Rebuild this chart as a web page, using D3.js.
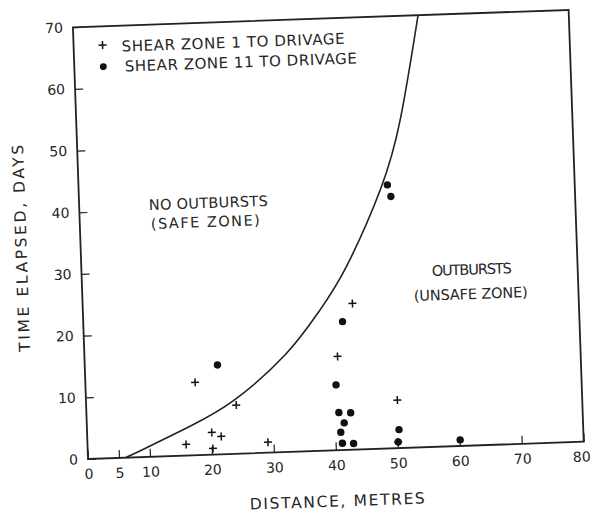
<!DOCTYPE html>
<html>
<head>
<meta charset="utf-8">
<script src="https://cdn.jsdelivr.net/npm/d3@7"></script>
<style>
  body { margin: 0; background: #fff; }
  svg { display: block; }
  text { font-family: "DejaVu Sans", sans-serif; fill: #262626; }
</style>
</head>
<body>
<div id="chart"></div>
<script>
// shear zone 1 (plus marks), [distance m, days]
const zoneOne = [
  [17.7, 11.8], [24.2, 7.9], [20.1, 3.6], [21.6, 2.9], [15.9, 1.8], [20.2, 1.0],
  [29.1, 1.7], [40.8, 15.2], [43.5, 23.7], [50.2, 7.8], [50.1, 1.0]
]
// shear zone 11 (dots)
const zoneEleven = [
  [21.4, 14.5], [49.8, 42.7], [50.3, 40.8], [41.8, 20.8], [40.4, 10.6], [40.7, 6.1],
  [42.6, 6.0], [41.5, 4.4], [40.9, 2.9], [50.3, 3.0], [41.1, 1.1], [42.9, 1.0],
  [50.1, 1.0], [60.1, 1.0]
]
// safe / unsafe boundary
const boundary = [
  [6, 0], [6.8, 0.25], [17.7, 5.2], [23.2, 7.8], [33.2, 16.0],
  [38.2, 22.8], [42.2, 28.1], [49.4, 43.0], [52.2, 52.0], [55.7, 70]
]
const xTicks = [0, 5, 10, 20, 30, 40, 50, 60, 70, 80]
const yTicks = [0, 10, 20, 30, 40, 50, 60, 70]
const legendLabels = ["SHEAR ZONE 1 TO DRIVAGE", "SHEAR ZONE 11 TO DRIVAGE"]

const width = 592, height = 515
const W = 496, H = 432
const ink = "#222"

const svg = d3.select("#chart").append("svg")
  .attr("width", width)
  .attr("height", height)

svg.append("rect").attr("width", width).attr("height", height).attr("fill", "#fff")

// the scanned page sits a little tilted
const root = svg.append("g")
  .attr("transform", `translate(88,459) rotate(-2) translate(0,${-H})`)

const x = d3.scaleLinear().domain([0, 80]).range([0, W])
const y = d3.scaleLinear().domain([0, 70]).range([H, 0])

root.append("clipPath").attr("id", "plotClip")
  .append("rect").attr("width", W).attr("height", H)

const axisX = root.append("g")
  .attr("transform", `translate(0,${H})`)
  .call(d3.axisBottom(x).tickValues(xTicks).tickSizeInner(-8).tickSizeOuter(0).tickPadding(10))
const axisY = root.append("g")
  .call(d3.axisLeft(y).tickValues(yTicks).tickSizeInner(-8).tickSizeOuter(0).tickPadding(10))

for (const a of [axisX, axisY]) {
  a.select(".domain").remove()
  a.selectAll(".tick line").attr("stroke", ink).attr("stroke-width", 1.2)
  a.selectAll(".tick text")
    .attr("font-size", 14)
    .attr("font-family", "DejaVu Sans, sans-serif")
    .attr("fill", "#262626")
}
// last x label sits on the page edge in the scan
axisX.selectAll(".tick text").filter(d => d == 80).attr("dx", -3)

root.append("rect")
  .attr("width", W)
  .attr("height", H)
  .attr("fill", "none")
  .attr("stroke", ink)
  .attr("stroke-width", 1.8)

root.append("path")
  .datum(boundary)
  .attr("clip-path", "url(#plotClip)")
  .attr("d", d3.line().x(d => x(d[0])).y(d => y(d[1])).curve(d3.curveBasis))
  .attr("fill", "none")
  .attr("stroke", ink)
  .attr("stroke-width", 1.6)

root.append("g").selectAll("circle")
  .data(zoneEleven)
  .join("circle")
    .attr("cx", d => x(d[0]))
    .attr("cy", d => y(d[1]))
    .attr("r", 3.7)
    .attr("fill", "#111")

root.append("g").selectAll("path")
  .data(zoneOne)
  .join("path")
    .attr("transform", d => `translate(${x(d[0])},${y(d[1])})`)
    .attr("d", "M-4,0H4M0,-4V4")
    .attr("stroke", "#111")
    .attr("stroke-width", 1.5)

// legend
const legend = root.append("g")
legend.append("path")
  .attr("d", "M25,18.8H33M29,14.8V22.8")
  .attr("stroke", "#111")
  .attr("stroke-width", 1.5)
legend.append("circle")
  .attr("cx", 29).attr("cy", 40.5).attr("r", 3.4).attr("fill", "#111")
legend.selectAll("text")
  .data(legendLabels)
  .join("text")
    .attr("x", (d, i) => i ? 50.5 : 48)
    .attr("y", (d, i) => 26 + i * 20)
    .attr("font-size", 15)
    .attr("textLength", (d, i) => i ? 232 : 223)
    .attr("lengthAdjust", "spacing")
    .text(d => d)

const notes = [
  {t: "NO OUTBURSTS", x: 69.7, y: 185.3, len: 119},
  {t: "(SAFE ZONE)", x: 71, y: 204.3, len: 109},
  {t: "OUTBURSTS", x: 350.2, y: 261.1, len: 80},
  {t: "(UNSAFE ZONE)", x: 331.3, y: 285.5, len: 114}
]
root.append("g").selectAll("text")
  .data(notes)
  .join("text")
    .attr("x", d => d.x)
    .attr("y", d => d.y)
    .attr("font-size", 14.5)
    .attr("textLength", d => d.len)
    .attr("lengthAdjust", "spacing")
    .text(d => d.t)

root.append("text")
  .attr("transform", "translate(-54,219) rotate(-90)")
  .attr("text-anchor", "middle")
  .attr("font-size", 15.5)
  .attr("textLength", 207)
  .attr("lengthAdjust", "spacing")
  .text("TIME ELAPSED, DAYS")

root.append("text")
  .attr("x", 247.7)
  .attr("y", 488.2)
  .attr("text-anchor", "middle")
  .attr("font-size", 15.5)
  .attr("textLength", 175)
  .attr("lengthAdjust", "spacing")
  .text("DISTANCE, METRES")
</script>
</body>
</html>
